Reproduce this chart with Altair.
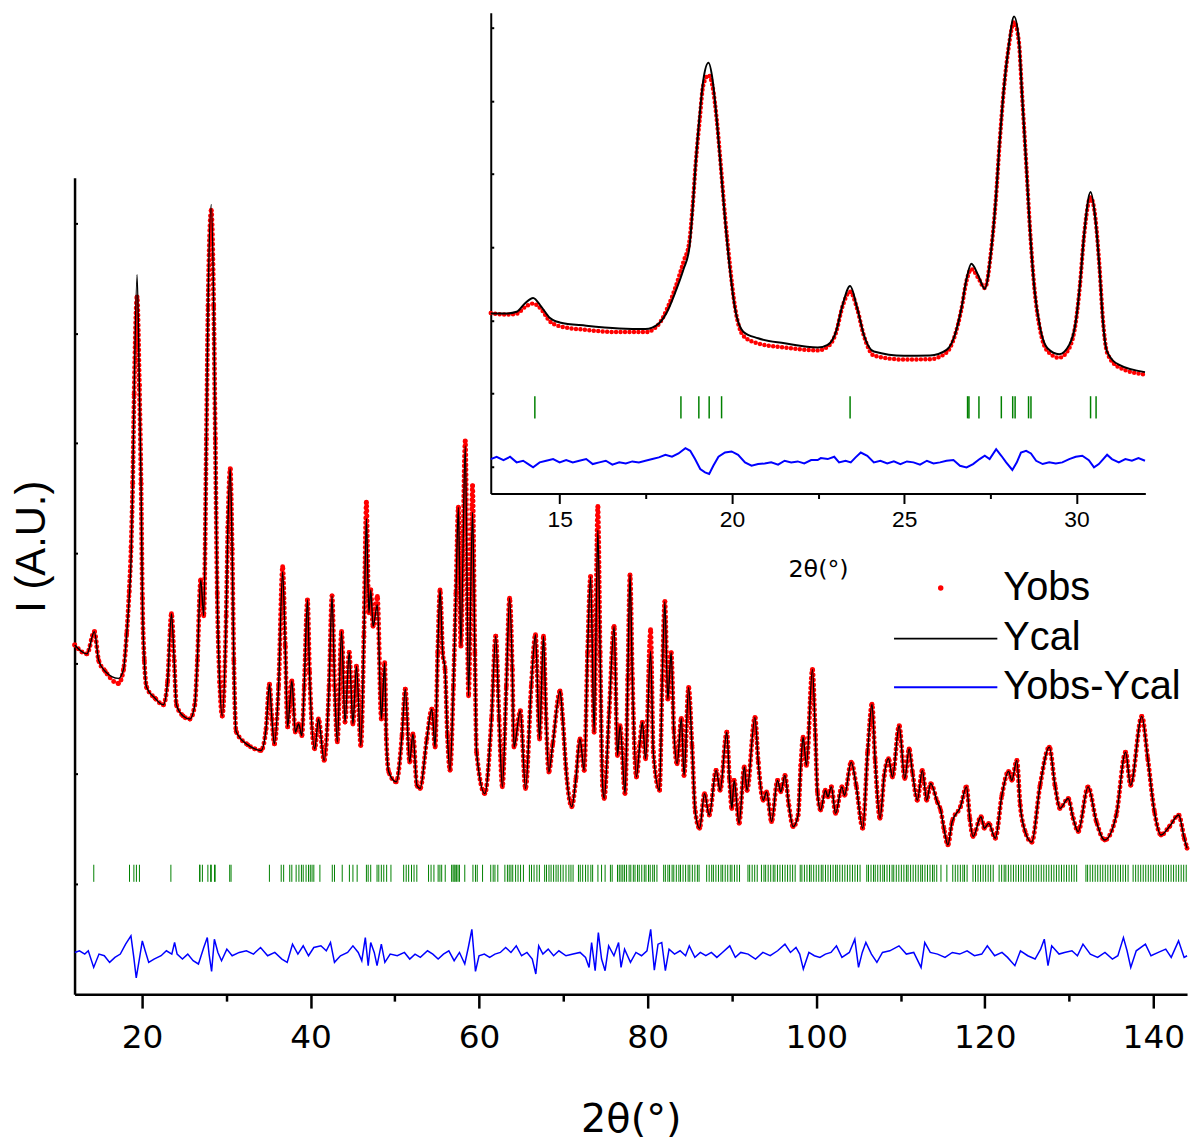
import altair as alt
import pandas as pd

# ---------------- values ----------------
# main pattern: 2theta (deg) and calculated intensity (a.u.)
main_x = [
    12.02, 13.47, 14.35, 14.86, 15.65, 17.21, 17.81, 18.19, 18.48, 18.71,
    18.90, 19.07, 19.42, 19.69, 19.89, 20.05, 20.28, 20.55, 21.55, 22.53,
    23.03, 23.50, 23.82, 24.09, 24.88, 25.68, 26.27, 26.57, 26.97, 27.33,
    27.64, 27.84, 28.22, 28.51, 28.70, 28.93, 29.22, 29.52, 29.99, 30.19,
    30.47, 30.70, 30.90, 31.17, 32.56, 33.38, 34.13, 34.72, 35.12, 35.42,
    35.71, 36.21, 36.69, 37.00, 37.28, 37.79, 38.19, 38.58, 38.97, 39.25,
    39.64, 39.88, 40.50, 40.94, 41.61, 42.20, 42.55, 42.86, 43.18, 43.68,
    44.09, 44.59, 45.03, 45.45, 45.97, 46.33, 46.63, 46.92, 47.15, 47.42,
    47.93, 48.40, 48.80, 48.99, 49.28, 50.17, 50.85, 51.24, 51.76, 52.15,
    52.62, 53.00, 53.80, 54.39, 54.78, 55.09, 55.37, 55.68, 55.96, 56.24,
    56.55, 56.95, 57.25, 57.54, 57.84, 58.36, 58.75, 59.22, 59.50, 59.70,
    60.68, 61.47, 61.97, 62.37, 62.76, 63.23, 63.62, 63.94, 64.14, 64.89,
    65.51, 66.19, 66.69, 67.17, 67.64, 67.95, 68.27, 68.74, 69.61, 69.92,
    70.31, 70.99, 71.49, 71.97, 72.47, 72.87, 73.23, 73.65, 74.09, 74.36,
    74.65, 74.84, 75.43, 76.02, 76.42, 76.73, 77.32, 77.64, 77.91, 78.19,
    78.66, 79.05, 79.37, 79.76, 80.35, 80.67, 81.41, 81.73, 82.04, 82.39,
    82.79, 83.10, 83.50, 84.00, 84.32, 84.86, 85.26, 85.65, 86.16, 86.75,
    87.30, 88.13, 88.60, 89.39, 89.70, 89.99, 90.26, 90.85, 91.47, 91.79,
    92.73, 93.12, 93.71, 94.11, 94.70, 95.41, 95.80, 96.28, 96.75, 97.26,
    97.85, 98.17, 98.44, 98.84, 99.55, 99.90, 100.14, 100.53, 101.08, 101.39,
    101.79, 102.30, 103.04, 103.36, 104.15, 104.74, 105.52, 106.10, 106.62, 106.98,
    107.57, 108.07, 108.58, 109.05, 109.84, 110.51, 111.02, 111.41, 112.00, 112.59,
    113.11, 113.58, 114.36, 114.76, 115.15, 115.62, 116.13, 117.12, 117.83, 118.22,
    118.61, 119.55, 119.95, 120.46, 121.25, 122.03, 122.82, 123.21, 123.80, 124.20,
    124.79, 125.57, 126.56, 127.66, 128.33, 128.92, 129.90, 130.49, 131.08, 132.26,
    133.24, 134.23, 135.60, 136.71, 137.30, 138.63, 139.34, 140.13, 140.91, 141.90,
    143.00, 143.67, 144.00,
]
main_ycal = [
    3170, 3089, 3291, 3030, 2930, 2867, 2949, 3273, 3592, 3958,
    4639, 5446, 6531, 5527, 4639, 3592, 3030, 2786, 2687, 2627,
    2831, 3454, 3030, 2627, 2525, 2498, 2627, 3030, 3760, 3435,
    5040, 6249, 7168, 6249, 5040, 3634, 2831, 2525, 3435, 4238,
    4770, 4040, 3030, 2385, 2263, 2227, 2212, 2408, 2813, 2498,
    2272, 2798, 3835, 3159, 2426, 2843, 2380, 2453, 2347, 2798,
    3580, 2922, 2227, 2498, 2122, 2798, 3616, 2798, 2290, 3294,
    2471, 3102, 2453, 2978, 2257, 3249, 4316, 3463, 3670, 3339,
    3535, 2498, 3009, 2317, 2017, 1927, 2347, 2768, 2107, 2362,
    1896, 1867, 2317, 2588, 2243, 3099, 3670, 3099, 2949, 2347,
    2032, 2798, 3640, 4421, 3159, 4977, 2708, 4376, 3099, 2197,
    1821, 2498, 3249, 2498, 1882, 2798, 3595, 2949, 2243, 2573,
    1867, 2798, 3264, 2317, 3249, 2498, 2017, 2272, 2753, 2498,
    2047, 1702, 1957, 2317, 2032, 3099, 3790, 2378, 4211, 3099,
    1896, 1776, 2558, 3339, 2167, 2437, 1821, 2858, 3805, 2858,
    1972, 2257, 2468, 2137, 3114, 2197, 1851, 2858, 3564, 2678,
    3099, 2408, 2092, 2504, 1986, 2784, 2257, 1656, 1506, 1821,
    1626, 2032, 1851, 2378, 1957, 1686, 1941, 1551, 2062, 1851,
    2513, 2107, 1761, 1837, 1566, 1941, 1837, 1986, 1716, 1521,
    1626, 2077, 2333, 2077, 2949, 2347, 1837, 1671, 1851, 1792,
    1882, 1641, 1882, 1806, 2107, 1896, 1506, 2197, 2633, 2137,
    1596, 1986, 2137, 1972, 2437, 1957, 2227, 2017, 1761, 2032,
    1761, 1912, 1747, 1671, 1506, 1355, 1566, 1702, 1882, 1596,
    1431, 1611, 1506, 1551, 1416, 1806, 2023, 1941, 2122, 1716,
    1476, 1380, 1896, 2243, 1896, 1686, 1776, 1596, 1476, 1882,
    1566, 1400, 1626, 2197, 1896, 2522, 2137, 1656, 1445, 1521,
    1626, 1416, 1325,
]
# where the observed points sit visibly off the calculated curve
obs_dev_x = [17.21, 18.48, 18.71, 19.42, 28.22, 36.69, 46.63, 47.93, 58.36, 59.22, 74.09, 80.35]
obs_dev_y = [2820, 3652, 4058, 6330, 7114, 3880, 4466, 3610, 5023, 4617, 4427, 3309]

# difference curve (already offset below the pattern)
diff_x = [
    12.03, 12.58, 13.21, 13.63, 14.27, 14.90, 15.53, 16.16, 16.79, 17.43,
    18.06, 18.69, 19.03, 19.32, 19.66, 20.04, 20.38, 20.80, 21.43, 22.27,
    22.90, 23.54, 23.87, 24.17, 24.80, 25.43, 26.07, 26.70, 27.33, 27.75,
    27.96, 28.26, 28.59, 29.01, 29.44, 30.07, 30.70, 31.54, 32.39, 33.23,
    34.07, 34.91, 35.76, 36.60, 37.23, 37.86, 38.50, 39.13, 39.76, 40.39,
    41.23, 41.87, 42.37, 42.84, 43.55, 44.40, 45.03, 45.66, 46.08, 46.50,
    46.84, 47.14, 47.56, 47.89, 48.40, 48.82, 49.45, 50.29, 51.14, 51.77,
    52.40, 53.03, 53.88, 54.51, 55.14, 55.77, 56.41, 57.04, 57.67, 58.30,
    58.72, 59.14, 59.57, 59.99, 60.62, 61.25, 61.88, 62.52, 63.15, 63.78,
    64.41, 65.04, 65.68, 66.31, 66.73, 67.07, 67.57, 68.20, 68.84, 69.47,
    70.31, 71.15, 71.98, 72.63, 73.05, 73.35, 73.77, 74.15, 74.53, 74.95,
    75.37, 76.00, 76.55, 76.84, 77.26, 77.96, 78.61, 79.27, 79.92, 80.36,
    80.79, 81.23, 81.67, 82.10, 82.54, 83.19, 83.85, 84.50, 84.94, 85.60,
    86.25, 86.90, 87.56, 88.21, 88.87, 89.74, 90.40, 91.05, 91.92, 92.80,
    93.67, 94.54, 95.42, 96.29, 96.94, 97.60, 98.04, 98.47, 99.13, 99.78,
    100.44, 101.09, 101.75, 102.40, 103.05, 103.93, 104.58, 105.02, 105.46, 105.89,
    106.55, 107.20, 107.86, 108.73, 109.82, 110.69, 111.57, 112.44, 112.88, 113.53,
    114.40, 115.28, 116.15, 117.02, 117.90, 118.77, 119.64, 120.30, 121.17, 122.04,
    122.70, 123.57, 124.23, 125.10, 125.97, 126.63, 127.06, 127.50, 127.94, 128.81,
    129.46, 130.34, 130.99, 131.65, 132.52, 133.39, 134.26, 135.14, 135.79, 136.45,
    136.88, 137.32, 137.97, 139.06, 139.72, 140.59, 141.47, 142.12, 142.99, 143.65,
    144.00,
]
diff_y = [
    379, 394, 364, 394, 243, 364, 349, 289, 334, 364,
    454, 529, 334, 147, 304, 484, 394, 289, 319, 349,
    394, 364, 469, 364, 319, 364, 304, 274, 424, 514,
    364, 207, 499, 379, 304, 409, 349, 379, 394, 364,
    424, 349, 379, 319, 289, 454, 364, 439, 349, 424,
    439, 394, 469, 289, 349, 379, 439, 379, 304, 514,
    259, 469, 379, 259, 454, 289, 364, 349, 379, 319,
    364, 334, 394, 364, 319, 364, 394, 304, 379, 274,
    424, 589, 207, 349, 364, 334, 364, 379, 424, 379,
    439, 349, 379, 319, 183, 439, 364, 409, 349, 394,
    349, 364, 379, 334, 243, 469, 213, 559, 319, 213,
    439, 349, 469, 243, 409, 289, 379, 349, 394, 589,
    219, 454, 469, 213, 409, 364, 394, 349, 439, 334,
    379, 349, 379, 334, 379, 439, 334, 379, 364, 319,
    379, 349, 394, 454, 379, 424, 364, 228, 379, 349,
    334, 364, 379, 439, 334, 379, 499, 243, 379, 469,
    364, 289, 379, 394, 439, 364, 379, 243, 469, 379,
    364, 334, 379, 364, 394, 349, 364, 439, 349, 379,
    334, 259, 394, 349, 319, 409, 499, 259, 439, 364,
    379, 394, 349, 454, 364, 334, 379, 319, 349, 514,
    394, 243, 394, 454, 349, 379, 409, 334, 484, 334,
    349,
]

# Bragg reflection positions (green ticks)
reflections = [
    14.28, 18.52, 19.04, 19.34, 19.70, 23.43, 26.84, 26.88, 27.17, 27.82,
    28.15, 28.22, 28.61, 28.68, 30.41, 30.57,
    35.12, 36.52, 36.81, 37.53, 37.78, 38.29, 38.62, 38.92, 39.13, 39.47,
    39.76, 39.97, 40.18, 40.39, 41.11, 42.58, 42.84, 43.76, 44.61, 45.03,
    45.53, 46.63, 46.84, 47.14, 47.89, 48.10, 48.40, 48.69, 49.03, 49.54,
    51.05, 51.35, 51.64, 51.98, 52.28, 52.61, 54.00, 54.30, 54.64, 55.14,
    55.35, 55.56, 55.98, 56.74, 56.91, 57.04, 57.16, 57.33, 57.50, 57.67,
    58.30, 59.27, 59.57, 59.78, 60.41, 61.38, 61.67, 61.88, 62.22, 63.06,
    63.36, 63.57, 63.78, 63.99, 64.33, 64.62, 64.92, 65.26, 65.97, 66.22,
    66.52, 66.86, 67.15, 67.78, 68.00, 68.29, 68.54, 68.84, 69.13, 69.38,
    69.68, 69.97, 70.31, 70.65, 70.90, 71.15, 71.79, 72.00, 72.29, 72.63,
    72.92, 73.26, 73.47, 74.10, 74.53, 74.95, 75.58, 75.79, 76.42, 76.63,
    76.84, 77.05, 77.26,
    77.5, 77.8, 78.0, 78.3, 78.5, 78.8, 79.0, 79.3, 79.6, 79.8, 80.1, 80.3,
    80.6, 80.8, 81.1, 81.9, 82.1, 82.4, 82.6, 82.9, 83.1, 83.4, 83.7, 83.9,
    84.2, 84.5, 84.8, 85.0, 85.3, 85.6, 85.9, 86.1, 87.0, 87.3, 87.6, 87.8,
    88.1, 88.4, 88.7, 88.9, 89.2, 89.5, 89.8, 90.0, 90.3, 90.6, 90.9, 91.9,
    92.1, 92.4, 92.7, 93.0, 93.5, 93.8, 94.0, 94.3, 94.6, 94.9, 95.1, 95.4,
    95.7, 96.0, 96.3, 96.6, 96.9, 97.2, 97.5, 98.1, 98.3, 98.6, 98.9, 99.2,
    99.4, 99.7, 100.0, 100.3, 100.6, 100.8, 101.1, 101.4, 101.7, 102.0, 102.3,
    102.5, 102.8, 103.1, 103.4, 103.7, 104.0, 104.3, 104.6, 104.9, 105.2,
    106.0, 106.2, 106.5, 106.8, 107.0, 107.3, 107.6, 107.9, 108.1, 108.4,
    108.7, 109.0, 109.2, 109.5, 109.8, 110.1, 110.4, 110.7, 110.9, 111.2,
    111.5, 111.8, 112.1, 112.4, 112.6, 112.9, 113.2, 113.5, 113.8, 114.0,
    114.3, 114.8, 115.5, 116.2, 116.5, 116.8, 117.1, 117.4, 117.6, 117.9,
    118.6, 118.9, 119.2, 119.5, 119.8, 120.1, 120.4, 120.7, 121.0, 121.7,
    122.0, 122.3, 122.5, 122.8, 123.1, 123.4, 123.7, 124.0, 124.3, 124.6,
    124.9, 125.2, 125.5, 125.8, 126.1, 126.4, 126.7, 127.0, 127.3, 127.6,
    127.9, 128.2, 128.5, 128.8, 129.1, 129.4, 129.7, 130.0, 130.3, 130.6,
    130.9, 132.0, 132.2, 132.5, 132.8, 133.1, 133.4, 133.7, 134.0, 134.3,
    134.6, 134.9, 135.2, 135.5, 135.8, 136.1, 136.4, 136.7, 137.0, 137.6,
    137.9, 138.2, 138.5, 138.8, 139.1, 139.4, 139.7, 140.0, 140.3, 140.6,
    140.9, 141.2, 141.5, 141.8, 142.1, 142.4, 142.7, 143.0, 143.3, 143.6,
    143.9,
]
tick_lo, tick_hi = 1020, 1175

# inset (zoom 13-32 deg)
inset_x = [
    13.0, 13.46, 13.75, 13.99, 14.23, 14.47, 14.71, 15.0, 15.77, 16.73,
    17.49, 17.88, 18.12, 18.36, 18.6, 18.76, 18.86, 18.95, 19.06, 19.17,
    19.32, 19.44, 19.56, 19.68, 19.80, 19.94, 20.09, 20.33, 20.76, 21.53,
    22.49, 22.78, 23.02, 23.21, 23.43, 23.64, 23.83, 24.12, 24.99, 25.75,
    26.23, 26.47, 26.66, 26.81, 26.95, 27.15, 27.34, 27.53, 27.66, 27.77,
    27.89, 28.03, 28.19, 28.33, 28.42, 28.54, 28.65, 28.78, 28.95, 29.16,
    29.5, 29.79, 29.98, 30.10, 30.22, 30.41, 30.55, 30.67, 30.77, 30.89,
    31.23, 31.99,
]
inset_ycal = [
    3094, 3094, 3117, 3230, 3307, 3185, 3036, 2972, 2927, 2890,
    2882, 2958, 3117, 3388, 3705, 3976, 4519, 5153, 5786, 6283,
    6519, 6283, 5740, 5062, 4383, 3705, 3162, 2846, 2755, 2687,
    2629, 2665, 2846, 3208, 3470, 3162, 2801, 2574, 2516, 2520,
    2597, 2801, 3162, 3569, 3772, 3615, 3433, 3976, 4655, 5424,
    6147, 6736, 7151, 6826, 6102, 5153, 4247, 3433, 2890, 2619,
    2538, 2665, 2981, 3479, 4158, 4755, 4383, 3705, 2981, 2574,
    2394, 2293,
]
inset_yobs = [
    3100, 3080, 3090, 3180, 3230, 3150, 2990, 2920, 2870, 2840,
    2840, 2950, 3160, 3450, 3810, 4060, 4560, 5150, 5720, 6215,
    6350, 6193, 5740, 5100, 4420, 3760, 3180, 2790, 2685, 2630,
    2590, 2640, 2830, 3190, 3390, 3150, 2790, 2520, 2465, 2470,
    2560, 2790, 3150, 3540, 3700, 3580, 3440, 3980, 4650, 5420,
    6140, 6720, 7075, 6800, 6100, 5160, 4260, 3440, 2860, 2580,
    2490, 2620, 2970, 3470, 4150, 4680, 4400, 3720, 3000, 2560,
    2360, 2260,
]
inset_diff_x = [
    13.0, 13.17, 13.37, 13.56, 13.75, 13.94, 14.09, 14.23, 14.42, 14.61,
    14.81, 15.0, 15.19, 15.38, 15.57, 15.77, 15.96, 16.15, 16.34, 16.53,
    16.73, 16.92, 17.11, 17.30, 17.49, 17.69, 17.88, 18.07, 18.26, 18.45,
    18.65, 18.79, 18.93, 19.08, 19.22, 19.34, 19.46, 19.61, 19.80, 19.99,
    20.18, 20.38, 20.57, 20.76, 20.95, 21.14, 21.34, 21.53, 21.72, 21.91,
    22.10, 22.30, 22.49,
    22.58, 22.78, 22.97, 23.11, 23.30, 23.45, 23.59, 23.74, 23.93, 24.12,
    24.31, 24.51, 24.70, 24.89, 25.08, 25.27, 25.46, 25.66, 25.85, 26.04,
    26.23, 26.43, 26.62, 26.81, 27.0, 27.19, 27.34, 27.48, 27.67, 27.82,
    27.96, 28.14, 28.27, 28.39, 28.54, 28.68, 28.83, 29.02, 29.21, 29.40,
    29.59, 29.79, 29.98, 30.17, 30.36, 30.51, 30.65, 30.89, 31.03, 31.23,
    31.42, 31.61, 31.80, 31.99,
]
inset_diff_y = [
    1105, 1137, 1091, 1137, 1060, 1082, 1037, 992, 1060, 1082,
    1105, 1060, 1091, 1060, 1082, 1105, 1037, 1060, 1082, 1028,
    1060, 1046, 1073, 1060, 1082, 1105, 1128, 1164, 1137, 1182,
    1254, 1218, 1105, 969, 924, 901, 1014, 1137, 1195, 1209,
    1164, 1060, 1014, 1037, 1046, 1060, 1028, 1082, 1060, 1073,
    1046, 1091, 1091,
    1118, 1105, 1137, 1060, 1082, 1060, 1128, 1195, 1150, 1060,
    1082, 1046, 1073, 1037, 1073, 1060, 1028, 1082, 1046, 1060,
    1082, 1091, 1014, 992, 1037, 1105, 1150, 1105, 1241, 1150,
    1060, 956, 1060, 1195, 1218, 1182, 1082, 1037, 1060, 1046,
    1060, 1105, 1137, 1150, 1091, 992, 1037, 1164, 1105, 1060,
    1105, 1082, 1118, 1082,
]
inset_tick_lo, inset_tick_hi = 1661, 1964

line_names = ["Ycal", "Yobs-Ycal"]
line_colors = ["#000000", "#0000ff"]

# ---------------- tables ----------------
dev = dict(zip(obs_dev_x, obs_dev_y))
n = min(len(main_x), len(main_ycal))
main_yobs = [dev.get(main_x[i], main_ycal[i]) for i in range(n)]
obs_df = pd.DataFrame({"x": main_x[:n], "y": main_yobs, "obs": "Yobs"})
cal_df = pd.DataFrame({"x": main_x[:n], "y": main_ycal[:n], "series": "Ycal"})
nd = min(len(diff_x), len(diff_y))
dif_df = pd.DataFrame({"x": diff_x[:nd], "y": diff_y[:nd], "series": "Yobs-Ycal"})
ref_df = pd.DataFrame({"x": reflections, "lo": tick_lo, "hi": tick_hi})

ni = min(len(inset_x), len(inset_ycal), len(inset_yobs))
iobs_df = pd.DataFrame({"x": inset_x[:ni], "y": inset_yobs[:ni]})
ical_df = pd.DataFrame({"x": inset_x[:ni], "y": inset_ycal[:ni]})
nid = min(len(inset_diff_x), len(inset_diff_y))
idif_df = pd.DataFrame({"x": inset_diff_x[:nid], "y": inset_diff_y[:nid]})
iref_df = pd.DataFrame({"x": [r for r in reflections if 13 <= r <= 32],
                        "lo": inset_tick_lo, "hi": inset_tick_hi})

# ---------------- scales & axes ----------------
FONT = "Liberation Sans"
WIDE = "DejaVu Sans"
W, H = 1120, 989

mxs = alt.Scale(domain=[12, 144], nice=False, zero=False)
mys = alt.Scale(domain=[0, 7412], range=[H, 167], nice=False, zero=False)
ixs = alt.Scale(domain=[13, 32], range=[419, 1078], nice=False, zero=False)
iys = alt.Scale(domain=[634, 7202], range=[485, 1], nice=False, zero=False)

mx_axis = alt.Axis(
    values=list(range(20, 141, 10)),
    labelExpr="datum.value % 20 === 0 ? datum.label : ''",
    tickSize={"condition": {"test": "datum.value % 20 === 0", "value": 14}, "value": 7},
    tickWidth=2.5, tickColor="black", domainColor="black", domainWidth=2.5,
    labelFont=WIDE, labelFontSize=33, labelColor="black", labelPadding=14,
    labelFlush=False, grid=False,
    title="2θ(°)", titleFont=WIDE, titleFontSize=40, titleFontWeight="normal",
    titleColor="black", titleY=138, titleBaseline="alphabetic",
)
# right-oriented axis moved onto the left edge so the small ticks point inward
my_axis = alt.Axis(
    orient="right", offset=-W,
    values=list(range(1000, 7001, 1000)), labels=False, tickSize=3, tickWidth=2,
    tickColor="black", domainColor="black", domainWidth=2.5, grid=False,
    title="I (A.U.)", titleFont=FONT, titleFontSize=42, titleFontWeight="normal",
    titleColor="black", titleAngle=270, titleX=-30, titleY=538,
    titleAlign="center", titleBaseline="alphabetic",
)
ix_axis = alt.Axis(
    orient="bottom", offset=-504,
    values=[15, 17.5, 20, 22.5, 25, 27.5, 30],
    labelExpr="datum.value % 5 === 0 ? datum.label : ''",
    tickSize={"condition": {"test": "datum.value % 5 === 0", "value": 10}, "value": 5},
    tickWidth=2, tickColor="black", domainColor="black", domainWidth=2,
    labelFont=FONT, labelFontSize=23, labelColor="black", labelPadding=5,
    labelFlush=False, grid=False,
    title="2θ(°)", titleFont=WIDE, titleFontSize=24, titleFontWeight="normal",
    titleColor="black", titleY=84, titleBaseline="alphabetic",
)
iy_axis = alt.Axis(
    orient="right", offset=-(W - 419),
    values=list(range(1000, 7001, 1000)), labels=False, tickSize=3, tickWidth=2,
    tickColor="black", domainColor="black", domainWidth=2, grid=False, title=None,
)

LINE = "M-5.2,0H5.2"
obs_legend = alt.Legend(
    title=None, orient="none", legendX=852, legendY=560,
    labelFont=FONT, labelFontSize=40, labelColor="black", labelLimit=0,
    symbolType="circle", symbolSize=30, symbolStrokeWidth=0, labelOffset=43,
)
line_legend = alt.Legend(
    title=None, orient="none", legendX=857, legendY=611,
    labelFont=FONT, labelFontSize=40, labelColor="black", labelLimit=0,
    symbolType=LINE, symbolSize=400, symbolStrokeWidth=1.8, labelOffset=38, rowPadding=9,
)
fill = alt.Fill("obs:N", scale=alt.Scale(domain=["Yobs"], range=["#ff0000"]), legend=obs_legend)
color = alt.Color("series:N", scale=alt.Scale(domain=line_names, range=line_colors), legend=line_legend)

X = alt.X("x:Q", scale=mxs, axis=mx_axis)
Y = alt.Y("y:Q", scale=mys, axis=my_axis)

# ---------------- main pattern ----------------
m_obs_line = alt.Chart(obs_df).mark_line(
    interpolate="monotone", strokeWidth=5, strokeDash=[0, 5], strokeCap="round", color="#ff0000"
).encode(x=X, y=Y)
m_obs_pts = alt.Chart(obs_df).mark_circle(size=24, opacity=1).encode(x=X, y=Y, fill=fill)
m_cal = alt.Chart(cal_df).mark_line(interpolate="monotone", strokeWidth=1.4).encode(x=X, y=Y, color=color)
m_ref = alt.Chart(ref_df).mark_rule(color="#008000", strokeWidth=1).encode(
    x=X, y=alt.Y("lo:Q", scale=mys, axis=my_axis), y2="hi:Q")
m_dif = alt.Chart(dif_df).mark_line(strokeWidth=1.5).encode(x=X, y=Y, color=color)
main = alt.layer(m_obs_line, m_obs_pts, m_cal, m_ref, m_dif)

# ---------------- inset ----------------
IX = alt.X("x:Q", scale=ixs, axis=ix_axis)
IY = alt.Y("y:Q", scale=iys, axis=iy_axis)
i_obs = alt.Chart(iobs_df).mark_line(
    interpolate="monotone", strokeWidth=4.5, strokeDash=[0, 4.5], strokeCap="round", color="#ff0000"
).encode(x=IX, y=IY)
i_cal = alt.Chart(ical_df).mark_line(interpolate="monotone", strokeWidth=2, color="#000000").encode(x=IX, y=IY)
i_ref = alt.Chart(iref_df).mark_rule(color="#008000", strokeWidth=1.5).encode(
    x=IX, y=alt.Y("lo:Q", scale=iys, axis=iy_axis), y2="hi:Q")
i_dif = alt.Chart(idif_df).mark_line(strokeWidth=2, color="#0000ff").encode(x=IX, y=IY)
inset = alt.layer(i_obs, i_cal, i_ref, i_dif)

chart = alt.layer(main, inset).resolve_scale(x="independent", y="independent").properties(
    width=W, height=H,
    autosize=alt.AutoSizeParams(type="none"),
    padding={"left": 67, "top": 0, "right": 9, "bottom": 147},
    background="white",
).configure_view(stroke=None)

chart.save("out.html", embed_options={"renderer": "svg", "actions": False})
